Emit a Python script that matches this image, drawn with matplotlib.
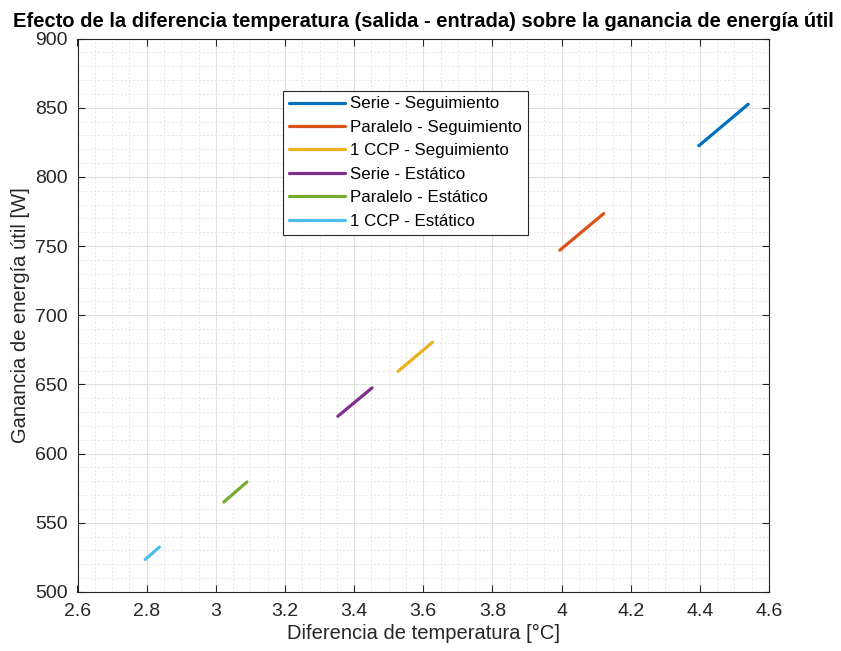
import matplotlib
matplotlib.use('Agg')
import matplotlib.pyplot as plt
from matplotlib.ticker import MultipleLocator

plt.rcParams['font.family'] = ['Liberation Sans', 'DejaVu Sans']

# Datos (extremos de cada recta)
etiquetas = ['Serie - Seguimiento', 'Paralelo - Seguimiento', '1 CCP - Seguimiento',
             'Serie - Estático', 'Paralelo - Estático', '1 CCP - Estático']
dT = [[4.397, 4.540], [3.995, 4.122], [3.527, 3.627],
      [3.353, 3.452], [3.023, 3.090], [2.796, 2.837]]
Q = [[822.5, 852.5], [747.0, 773.5], [659.5, 680.5],
     [627.0, 647.5], [565.0, 579.5], [523.5, 532.5]]
colores = ['#0072BD', '#D95319', '#EDB120', '#7E2F8E', '#77AC30', '#4DBEEE']

fig = plt.figure(figsize=(8.41, 6.51), dpi=100)
ax = fig.add_axes([77.5 / 841, 1 - 592 / 651, 691.5 / 841, 553.5 / 651])

for x, y, c, lab in zip(dT, Q, colores, etiquetas):
    ax.plot(x, y, color=c, linewidth=2.3, label=lab, solid_capstyle='round')

ax.set_xlim(2.6, 4.6)
ax.set_ylim(500, 900)
ax.xaxis.set_major_locator(MultipleLocator(0.2))
ax.xaxis.set_minor_locator(MultipleLocator(0.05))
ax.yaxis.set_major_locator(MultipleLocator(50))
ax.yaxis.set_minor_locator(MultipleLocator(10))
ax.set_xticklabels([f'{v:g}' for v in ax.get_xticks()])
ax.grid(which='major', color='#e0e0e0', linewidth=0.8, linestyle='-')
ax.grid(which='minor', color='#e6e6e6', linewidth=0.7, linestyle=(0, (2, 2)))
ax.set_axisbelow(True)
ax.tick_params(which='both', direction='in', top=True, right=True, labelsize=14,
               colors='#262626')
ax.tick_params(which='minor', length=0)
ax.tick_params(which='major', length=5)
ax.tick_params(axis='x', pad=8)
ax.tick_params(axis='y', pad=7)
for s in ax.spines.values():
    s.set_color('#262626')
    s.set_linewidth(0.8)

ax.set_xlabel('Diferencia de temperatura [°C]', fontsize=14.5, color='#262626', labelpad=3)
ax.set_ylabel('Ganancia de energía útil [W]', fontsize=14.5, color='#262626', labelpad=4)
ax.set_title('Efecto de la diferencia temperatura (salida - entrada) sobre la ganancia de energía útil',
             fontsize=14.5, fontweight='bold', pad=8)

leg = ax.legend(loc='upper left', bbox_to_anchor=(0.297, 0.906), fontsize=12.2,
                frameon=True, fancybox=False, edgecolor='#262626', framealpha=1,
                handlelength=3.3, handletextpad=0.3, labelspacing=0.5,
                borderpad=0.35, borderaxespad=0)
leg.get_frame().set_linewidth(0.8)

fig.savefig('out.png', dpi=100)
